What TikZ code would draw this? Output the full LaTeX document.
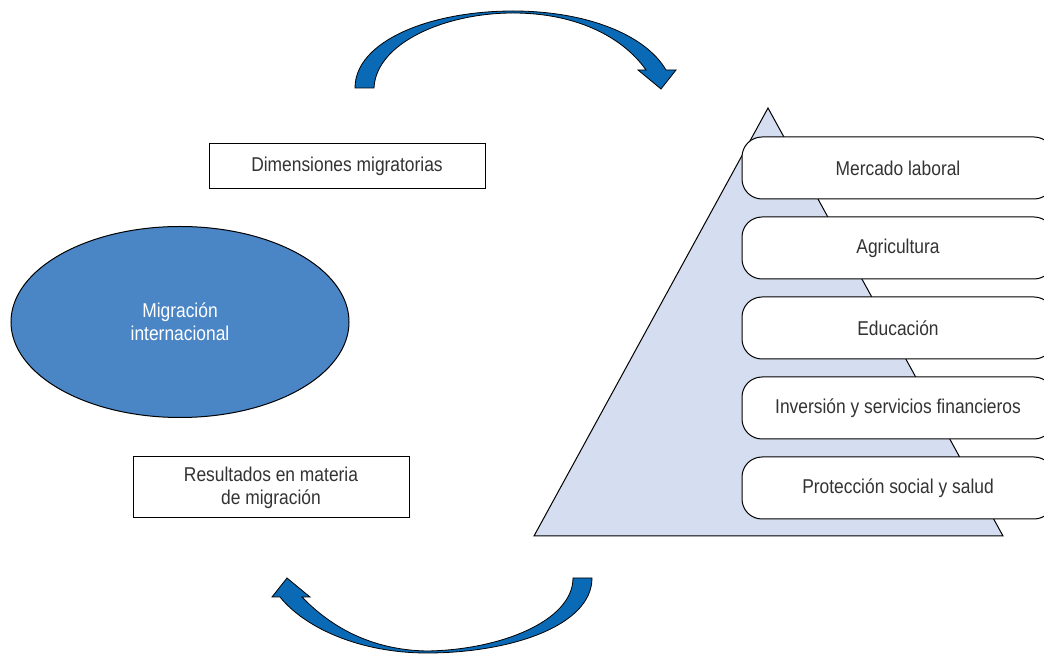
\documentclass[tikz,border=0pt]{standalone}
\usepackage{fontspec}
\setmainfont[FakeStretch=0.87]{Liberation Sans}
\usepackage{tikz}
\usetikzlibrary{positioning,shapes.geometric}

\definecolor{arrowblue}{HTML}{0A6AB5}
\definecolor{ellblue}{HTML}{4A86C6}
\definecolor{pyrblue}{HTML}{D5DEF0}
\definecolor{txtgray}{HTML}{333333}

\begin{document}
\begin{tikzpicture}
  [x=1pt,y=1pt,line width=1pt,
   every node/.style={font=\fontsize{20}{23}\selectfont,text=txtgray,align=center}]

  \tikzstyle{sqbox} = [draw,rectangle,minimum width=276,fill=white]
  \tikzstyle{levelbox} = [draw,rectangle,rounded corners=20,minimum width=312,minimum height=62,fill=white]

  \useasboundingbox (0,0) rectangle (1044,656);
  \clip (0,0) rectangle (1044,656);
  \fill[white] (0,0) rectangle (1044,656);

  % curved arrows
  \draw[fill=arrowblue,line width=0.8pt]
    (355,568) .. controls (355,615) and (430,645) .. (513,645)
    .. controls (585,645) and (645,622) .. (666,586)
    -- (676,586) -- (661,567) -- (638,586) -- (646,586)
    .. controls (622,620) and (575,643) .. (513,643)
    .. controls (445,643) and (376,613) .. (374,568) -- cycle;
  \draw[fill=arrowblue,line width=0.8pt]
    (592,78) .. controls (592,30) and (510,3) .. (427,3)
    .. controls (360,3) and (305,28) .. (280,59)
    -- (272,59) -- (287,78) -- (310,59) -- (302,59)
    .. controls (330,30) and (370,6) .. (427,5)
    .. controls (500,6) and (573,35) .. (573,78) -- cycle;

  % pyramid
  \draw[fill=pyrblue] (534,120) -- (768,548) -- (1003,120) -- cycle;

  \node[draw,ellipse,fill=ellblue,text=white,minimum width=338,minimum height=191]
    (mig) at (180,334) {Migración\\internacional};
  \node[sqbox,minimum height=45] (dim) at (347,489.5) {Dimensiones migratorias};
  \node[sqbox,minimum height=61] (res) at (271,168.5) {Resultados en materia\\de migración};

  \node[levelbox] (lab) at (898,488) {Mercado laboral};
  \node[levelbox,below=17 of lab] (agr) {Agricultura};
  \node[levelbox,below=17 of agr] (edu) {Educación};
  \node[levelbox,below=17 of edu] (inv) {Inversión y servicios financieros};
  \node[levelbox,below=17 of inv] (pro) {Protección social y salud};
\end{tikzpicture}
\end{document}
